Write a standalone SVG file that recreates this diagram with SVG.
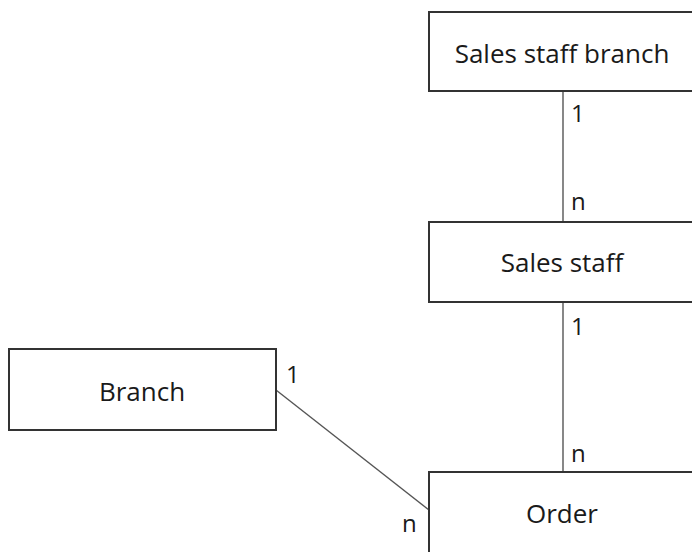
<svg xmlns="http://www.w3.org/2000/svg" width="692" height="552" viewBox="0 0 692 552">
  <style>
    .box { fill: #ffffff; stroke: #333333; stroke-width: 2; }
    .name { font-family: "Open Sans", "Liberation Sans", sans-serif; font-size: 26px; fill: #1a1a1a; text-anchor: middle; }
    .card { font-family: "Open Sans", "Liberation Sans", sans-serif; font-size: 24px; fill: #1a1a1a; }
    .link { stroke: #555555; stroke-width: 1.4; fill: none; }
  </style>
  <rect width="692" height="552" fill="#ffffff"/>

  <g id="connectors">
    <line class="link" x1="563" y1="92" x2="563" y2="222"/>
    <line class="link" x1="563" y1="302" x2="563" y2="472"/>
    <line class="link" x1="276" y1="390" x2="429" y2="510"/>
    <text class="card" x="571" y="122">1</text>
    <text class="card" x="571" y="210">n</text>
    <text class="card" x="571" y="335">1</text>
    <text class="card" x="571" y="462">n</text>
    <text class="card" x="286" y="383">1</text>
    <text class="card" x="402" y="532">n</text>
  </g>

  <g id="sales-staff-branch">
    <rect class="box" x="429" y="12" width="280" height="79"/>
    <text class="name" x="562" y="63">Sales staff branch</text>
  </g>

  <g id="sales-staff">
    <rect class="box" x="429" y="222" width="280" height="80"/>
    <text class="name" x="562" y="272">Sales staff</text>
  </g>

  <g id="branch">
    <rect class="box" x="9" y="349" width="267" height="81"/>
    <text class="name" x="142" y="401">Branch</text>
  </g>

  <g id="order">
    <rect class="box" x="429" y="472" width="280" height="100"/>
    <text class="name" x="562" y="523">Order</text>
  </g>
</svg>
